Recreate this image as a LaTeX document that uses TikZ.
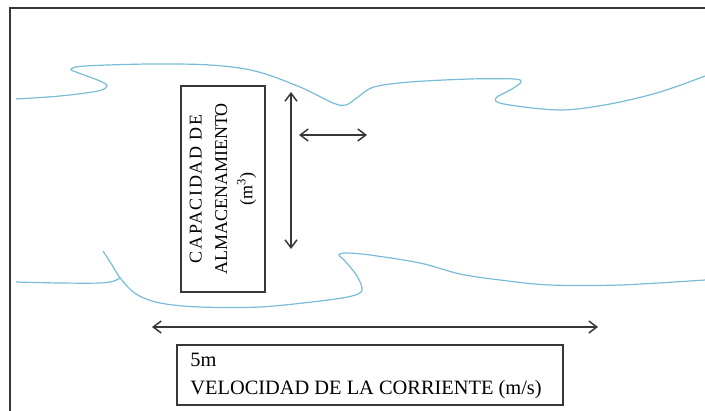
\documentclass[tikz,border=0pt]{standalone}
\usepackage{fontspec}
\setmainfont{Liberation Serif}
\usetikzlibrary{arrows.meta}
\definecolor{wave}{RGB}{120,188,214}
\definecolor{ink}{RGB}{55,55,55}
\tikzset{
  px/.style={x=0.75pt,y=-0.75pt},
  boxstyle/.style={draw=ink, line width=1.3pt, inner sep=0pt},
  arr/.style={draw=ink, line width=1.1pt, {Straight Barb[length=6pt,width=9pt]}-{Straight Barb[length=6pt,width=9pt]}},
  river/.style={draw=wave, line width=0.9pt},
  frame/.style={draw=ink, line width=1.6pt}
}
\begin{document}
\begin{tikzpicture}[px]
\useasboundingbox (0,0) rectangle (705,410);
% frame
\coordinate (fb) at (10,415);
\coordinate (ftl) at (10,8);
\coordinate (fr) at (710,8);
\draw[frame] (fb) -- (ftl) -- (fr);
% river banks
\draw[river] plot[smooth, tension=0.55] coordinates {(16,99) (60,96) (98,91) (107,86) (100,81) (76,72) (71,69) (85,66) (150,64) (210,65) (255,71) (300,87) (333,103) (346,105) (358,97) (374,87) (410,82) (470,79) (514,79) (521,82) (512,89) (496,98) (504,104) (560,110) (610,104) (660,92) (705,76)};
\draw[river] plot[smooth, tension=0.55] coordinates {(103,251) (112,265) (121,279) (136,294) (160,303) (200,307) (260,307) (320,301) (352,296) (362,290) (357,276) (345,261) (339,255) (346,253) (370,255) (420,263) (460,274) (500,280) (550,285) (620,285) (705,280)};
\draw[river] plot[smooth, tension=0.55] coordinates {(16,282) (60,283) (100,283) (114,281) (120,278)};
% storage box
\node[boxstyle, rotate=90, minimum width=154.5pt, minimum height=63pt, align=center,
  font=\fontsize{13.5pt}{19pt}\selectfont] (cap) at (223,189)
  {{\addfontfeatures{LetterSpace=9}CAPACIDAD DE}\\ALMACENAMIENTO\\(m\textsuperscript{3})};
% arrows
\coordinate (vt) at (291,92);
\coordinate (vb) at (291,249);
\coordinate (hl) at (299,135);
\coordinate (hr) at (367,135);
\coordinate (ll) at (152,327);
\coordinate (lr) at (598,327);
\draw[arr] (vt) -- (vb);
\draw[arr] (hl) -- (hr);
\draw[arr] (ll) -- (lr);
% velocity box
\node[boxstyle, minimum width=289.5pt, minimum height=45pt] (vel) at (370,375) {};
\node[anchor=west, inner sep=0pt, align=left, font=\fontsize{15.3pt}{21pt}\selectfont] (veltext) at ([xshift=10.5pt,yshift=-1pt]vel.west)
  {5m\\VELOCIDAD DE LA CORRIENTE (m/s)};
\end{tikzpicture}
\end{document}
